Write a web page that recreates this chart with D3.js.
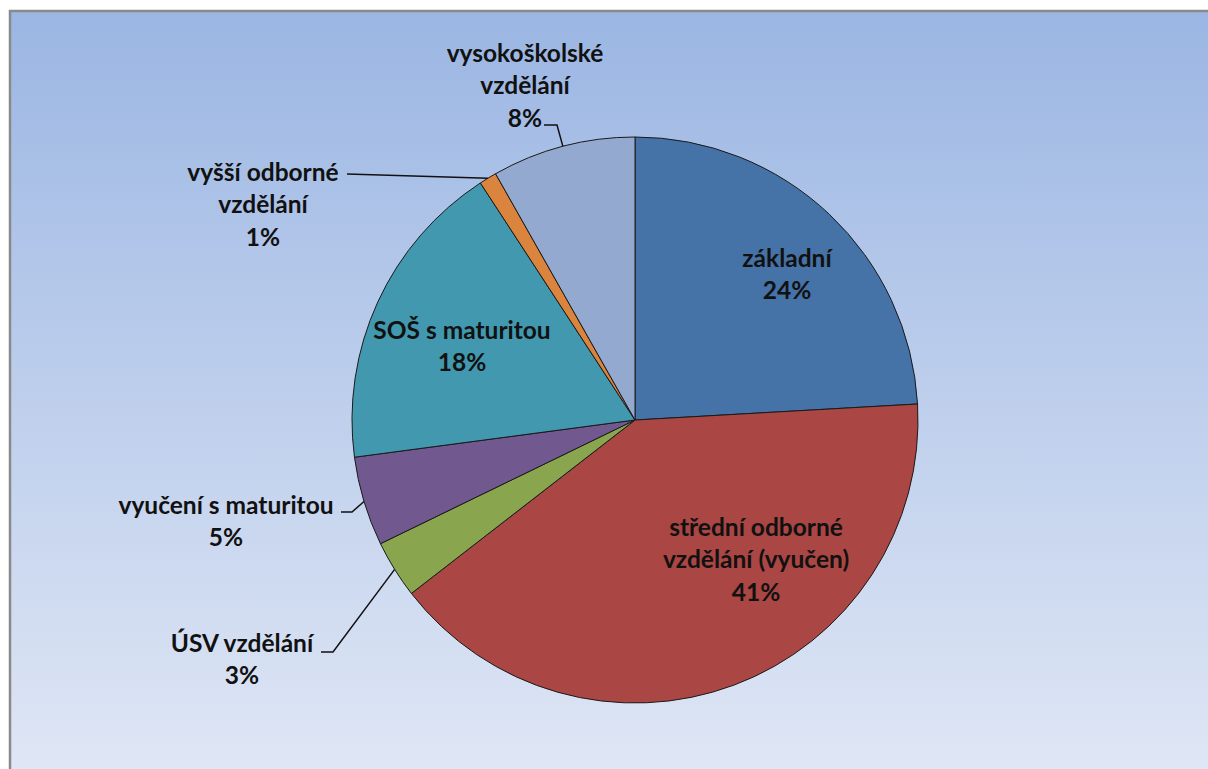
<!DOCTYPE html>
<html>
<head>
<meta charset="utf-8">
<script src="https://cdn.jsdelivr.net/npm/d3@7"></script>
<style>
  body { margin: 0; background: #fff; }
  svg { display: block; }
  text { font-family: Lato, "Open Sans", sans-serif; font-weight: bold; font-size: 24.5px; fill: #111; }
</style>
</head>
<body>
<div id="chart"></div>
<script>
var categories = ["základní", "střední odborné vzdělání (vyučen)", "ÚSV vzdělání",
                  "vyučení s maturitou", "SOŠ s maturitou", "vyšší odborné vzdělání",
                  "vysokoškolské vzdělání"];
var values = [24.1, 40.4, 3.3, 5.1, 17.9, 1.0, 8.2];
var percentLabels = ["24%", "41%", "3%", "5%", "18%", "1%", "8%"];
var colors = ["#4572A7", "#AA4643", "#89A54E", "#71588F", "#4198AF", "#DB843D", "#93A9CF"];

var width = 1208, height = 769,
    cx = 635, cy = 420, radius = 283;

var svg = d3.select("#chart").append("svg")
    .attr("width", width)
    .attr("height", height);

var grad = svg.append("defs").append("linearGradient")
    .attr("id", "bg")
    .attr("x1", 0).attr("y1", 0).attr("x2", 0).attr("y2", 1);
grad.append("stop").attr("offset", "0%").attr("stop-color", "#9bb6e3");
grad.append("stop").attr("offset", "100%").attr("stop-color", "#e0e7f5");

// plot area frame
svg.append("rect")
    .attr("x", 10).attr("y", 11)
    .attr("width", width).attr("height", height)
    .attr("fill", "url(#bg)")
    .attr("stroke", "#8a8a8a")
    .attr("stroke-width", 2.5);

var pie = d3.pie().sort(null).value(function(d) { return d; });
var arc = d3.arc().innerRadius(0).outerRadius(radius);
var arcs = pie(values);

var g = svg.append("g").attr("transform", "translate(" + cx + "," + cy + ")");

g.selectAll("path.slice")
    .data(arcs)
    .enter().append("path")
    .attr("class", "slice")
    .attr("d", arc)
    .attr("fill", function(d, i) { return colors[i]; })
    .attr("stroke", "#1a1a1a")
    .attr("stroke-width", 1);

// label centre x, first line y, text lines, optional leader [x0, y, x1]
var labelPos = [
    { x: 787, y: 258, lines: ["základní"] },
    { x: 756, y: 527, lines: ["střední odborné", "vzdělání (vyučen)"] },
    { x: 242, y: 643, lines: ["ÚSV vzdělání"], leader: [321, 652, 333] },
    { x: 226, y: 505, lines: ["vyučení s maturitou"], leader: [341, 512, 352] },
    { x: 462, y: 330, lines: ["SOŠ s maturitou"] },
    { x: 263, y: 172, lines: ["vyšší odborné", "vzdělání"], leader: [347, 174, 347] },
    { x: 525, y: 53, lines: ["vysokoškolské", "vzdělání"], leader: [544, 125, 557] }
];

var lineH = 32.5;

arcs.forEach(function(d, i) {
    var p = labelPos[i];
    var t = svg.append("text")
        .attr("text-anchor", "middle")
        .attr("x", p.x)
        .attr("y", p.y);
    p.lines.concat([percentLabels[i]]).forEach(function(s, k) {
        t.append("tspan")
            .attr("x", p.x)
            .attr("y", p.y + k * lineH)
            .attr("dy", "0.35em")
            .text(s);
    });
    if (p.leader) {
        var mid = (d.startAngle + d.endAngle) / 2;
        var ex = cx + Math.sin(mid) * radius,
            ey = cy - Math.cos(mid) * radius;
        svg.append("path")
            .attr("d", d3.line()([[p.leader[0], p.leader[1]], [p.leader[2], p.leader[1]], [ex, ey]]))
            .attr("fill", "none")
            .attr("stroke", "#111")
            .attr("stroke-width", 1.5);
    }
});
</script>
</body>
</html>
